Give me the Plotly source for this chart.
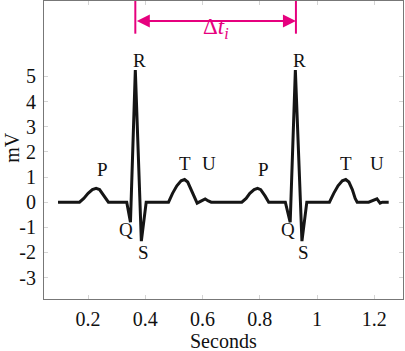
import plotly.graph_objects as go

# ECG trace (seconds, mV)
t_sec = [0.095, 0.17, 0.185, 0.20, 0.215, 0.228, 0.24, 0.255, 0.271,
         0.335, 0.348, 0.365, 0.386, 0.403,
         0.481, 0.495, 0.51, 0.525, 0.537, 0.548, 0.56, 0.572, 0.581,
         0.596, 0.609, 0.62, 0.63,
         0.737, 0.752, 0.765, 0.78, 0.792, 0.803, 0.818, 0.831,
         0.889, 0.906, 0.924, 0.947, 0.964,
         1.043, 1.058, 1.073, 1.088, 1.10, 1.111, 1.123, 1.133, 1.14,
         1.18, 1.195, 1.209, 1.22, 1.228, 1.25]
mv = [0, 0, 0.15, 0.35, 0.5, 0.55, 0.5, 0.25, 0,
      0, -0.8, 5.25, -1.55, 0,
      0, 0.35, 0.65, 0.85, 0.9, 0.8, 0.5, 0.15, -0.04,
      0.05, 0.13, 0.05, 0,
      0, 0.15, 0.35, 0.5, 0.55, 0.5, 0.25, 0,
      0, -0.8, 5.25, -1.55, 0,
      0, 0.35, 0.65, 0.85, 0.9, 0.8, 0.5, 0.15, 0,
      0, 0.07, 0.13, -0.04, 0, 0]

# wave labels
label_text = ["P", "Q", "R", "S", "T", "U", "P", "Q", "R", "S", "T", "U"]
label_t = [0.252, 0.334, 0.379, 0.394, 0.537, 0.624,
           0.813, 0.90, 0.939, 0.953, 1.10, 1.209]
label_mv = [1.28, -1.07, 5.65, -2.02, 1.55, 1.55,
            1.28, -1.07, 5.65, -2.02, 1.55, 1.55]

# R-R interval annotation
rr_t = [0.365, 0.926]
rr_mv_bottom = 6.7
rr_mv_arrow = 7.2
rr_label = "Δ<i>t</i><sub><i>i</i></sub>"
rr_label_pos = [0.648, 6.92]

# axis ticks and titles
x_tickvals = [0.2, 0.4, 0.6, 0.8, 1.0, 1.2]
x_ticktext = ["0.2", "0.4", "0.6", "0.8", "1", "1.2"]
y_tickvals = [-3, -2, -1, 0, 1, 2, 3, 4, 5]
y_ticktext = ["-3", "-2", "-1", "0", "1", "2", "3", "4", "5"]
x_title = "Seconds"
y_title = "mV"

MAGENTA = "#E6007E"
FONT = "Liberation Serif"

fig = go.Figure()
fig.add_trace(go.Scatter(x=t_sec, y=mv, mode="lines",
                         line=dict(color="#151515", width=3),
                         showlegend=False, hoverinfo="skip"))

for txt, x, y in zip(label_text, label_t, label_mv):
    fig.add_annotation(x=x, y=y, text=txt, showarrow=False,
                       font=dict(family=FONT, size=19, color="#111"))

for x in rr_t:
    fig.add_shape(type="line", x0=x, x1=x, y0=rr_mv_bottom, y1=8,
                  line=dict(color=MAGENTA, width=2))

fig.add_annotation(x=rr_t[1], y=rr_mv_arrow, ax=rr_t[0], ay=rr_mv_arrow,
                   xref="x", yref="y", axref="x", ayref="y",
                   text="", showarrow=True, arrowhead=2, startarrowhead=2,
                   arrowside="end+start", arrowsize=1.3, startarrowsize=1.3,
                   arrowwidth=2, arrowcolor=MAGENTA, standoff=0, startstandoff=0)
fig.add_annotation(x=rr_label_pos[0], y=rr_label_pos[1], text=rr_label,
                   showarrow=False,
                   font=dict(family=FONT, size=23, color=MAGENTA))

# axis titles placed as paper annotations
fig.add_annotation(xref="paper", yref="paper", x=0.5, y=-0.14, text=x_title,
                   showarrow=False, xanchor="center", yanchor="middle",
                   font=dict(family=FONT, size=20, color="#111"))
fig.add_annotation(xref="paper", yref="paper", x=-0.09, y=0.51, text=y_title,
                   showarrow=False, xanchor="center", yanchor="middle", textangle=-90,
                   font=dict(family=FONT, size=20, color="#111"))

axis_common = dict(showline=True, linecolor="#777", linewidth=1, mirror="allticks",
                   ticks="inside", ticklen=4, tickcolor="#d4d4d4", tickwidth=1,
                   showgrid=False, zeroline=False, automargin=False,
                   tickfont=dict(family=FONT, size=20, color="#111"))

fig.update_xaxes(range=[0.046, 1.30], tickvals=x_tickvals, ticktext=x_ticktext,
                 ticklabelstandoff=2, **axis_common)
fig.update_yaxes(range=[-3.85, 8], tickvals=y_tickvals, ticktext=y_ticktext,
                 ticklabelstandoff=3, **axis_common)

fig.update_layout(width=405, height=351,
                  margin=dict(l=44, r=2, t=1, b=52),
                  plot_bgcolor="white", paper_bgcolor="white")

fig.write_html("out.html", config={"displayModeBar": False},
               post_script="document.body.style.margin='0';document.body.style.overflow='hidden';")
